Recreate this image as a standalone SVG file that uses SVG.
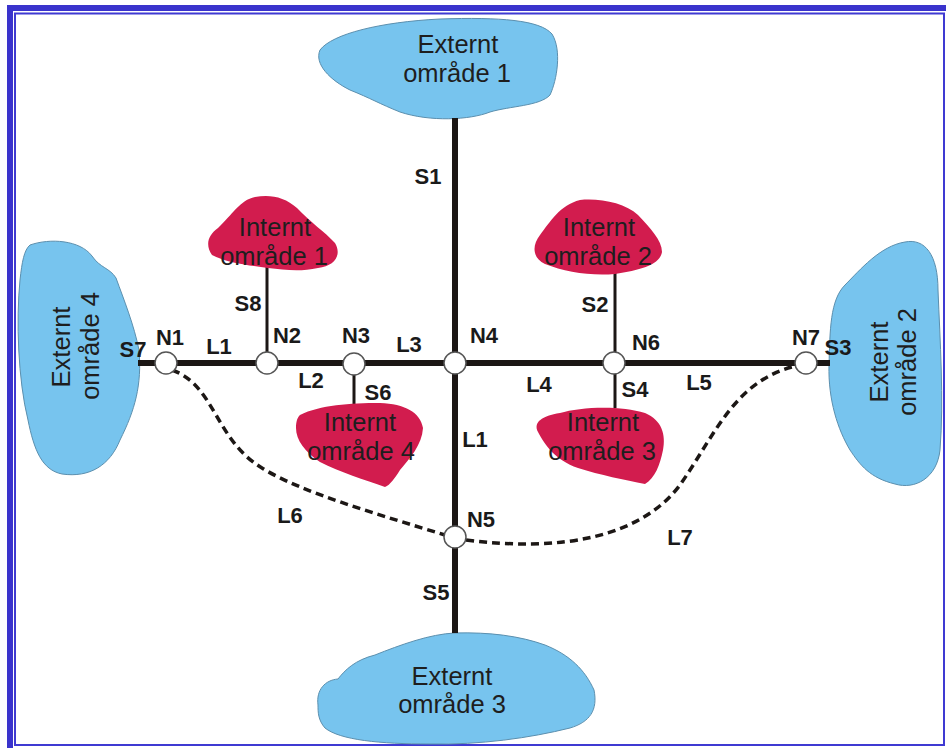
<svg xmlns="http://www.w3.org/2000/svg" width="946" height="748" viewBox="0 0 946 748">
  <style>
    .ext { fill: #77c4ee; stroke: #5b8fae; stroke-width: 1; }
    .int { fill: #d21c4e; stroke: none; }
    .area { font-family: "Liberation Sans", Arial, sans-serif; font-size: 25.5px; fill: #1e1e1e; text-anchor: middle; }
    .lbl { font-family: "Liberation Sans", Arial, sans-serif; font-size: 22px; font-weight: bold; fill: #1a1a1a; text-anchor: middle; }
    .main { stroke: #1c1715; stroke-width: 6; fill: none; }
    .stub { stroke: #1c1715; stroke-width: 3; fill: none; }
    .dash { stroke: #1c1715; stroke-width: 3.5; fill: none; stroke-dasharray: 8 5; }
    .node { fill: #ffffff; stroke: #555555; stroke-width: 1.5; }
  </style>

  <!-- frame -->
  <rect x="0" y="0" width="946" height="748" fill="#ffffff"/>
  <rect x="7" y="5" width="939" height="6" fill="#3a33cc"/>
  <rect x="7" y="5" width="6" height="743" fill="#3a33cc"/>
  <rect x="15" y="13.5" width="929" height="731.5" fill="none" stroke="#3f3ad2" stroke-width="2"/>

  <!-- external areas -->
  <g id="externt1">
    <path class="ext" d="M 320,50 C 332,34 380,22 440,19 C 500,17 540,20 552,34 C 562,50 557,80 550,95 C 540,106 510,106 490,112 C 470,120 430,122 400,112 C 380,104 370,98 350,90 C 330,80 314,64 320,50 Z"/>
    <text class="area" x="458" y="53">Externt</text>
    <text class="area" x="457" y="82">område 1</text>
  </g>
  <g id="externt2">
    <path class="ext" d="M 905,242 C 925,238 938,255 938,290 C 940,340 944,400 940,450 C 937,478 915,490 895,484 C 870,478 860,465 850,450 C 838,430 828,400 829,365 C 830,330 830,300 845,285 C 860,270 880,246 905,242 Z"/>
    <text class="area" transform="translate(888,362) rotate(-90)">Externt</text>
    <text class="area" transform="translate(916,362) rotate(-90)">område 2</text>
  </g>
  <g id="externt3">
    <path class="ext" d="M 318,705 C 316,690 325,680 338,679 C 345,670 355,660 375,655 C 400,645 430,634 455,633 C 490,632 520,636 545,645 C 570,655 585,670 594,690 C 598,710 590,722 570,728 C 530,738 480,745 430,744 C 380,744 340,740 325,728 C 318,720 318,712 318,705 Z"/>
    <text class="area" x="452" y="685">Externt</text>
    <text class="area" x="452" y="713">område 3</text>
  </g>
  <g id="externt4">
    <path class="ext" d="M 30,245 C 50,238 80,240 92,256 C 100,268 110,268 116,278 C 124,300 134,325 139,350 C 142,385 135,410 120,440 C 110,465 90,478 62,474 C 42,470 34,450 28,420 C 18,380 16,320 20,280 C 22,262 24,250 30,245 Z"/>
    <text class="area" transform="translate(70,347) rotate(-90)">Externt</text>
    <text class="area" transform="translate(99,346) rotate(-90)">område 4</text>
  </g>

  <!-- connectors -->
  <g id="connectors">
    <line class="main" x1="455" y1="118" x2="455" y2="633"/>
    <line class="main" x1="138" y1="363" x2="830" y2="363"/>
    <line class="stub" x1="267" y1="265" x2="267" y2="363"/>
    <line class="stub" x1="354" y1="363" x2="354" y2="405"/>
    <line class="stub" x1="615" y1="272" x2="615" y2="363"/>
    <line class="stub" x1="615" y1="363" x2="615" y2="408"/>
    <path class="dash" d="M 172,370 C 215,385 215,440 262,468 C 300,492 380,515 445,535"/>
    <path class="dash" d="M 466,540 C 560,552 640,538 680,485 C 715,435 735,380 796,366"/>
  </g>

  <!-- internal areas -->
  <g id="internt1">
    <path class="int" d="M 255,197 C 270,194 285,197 297,208 C 310,222 325,232 335,243 C 342,255 335,266 318,268 C 300,272 285,270 268,268 C 245,265 225,262 212,255 C 205,245 208,235 218,228 C 232,215 240,200 255,197 Z"/>
    <text class="area" x="275" y="236">Internt</text>
    <text class="area" x="274" y="265">område 1</text>
  </g>
  <g id="internt2">
    <path class="int" d="M 580,200 C 600,198 625,203 638,215 C 650,228 662,240 662,252 C 660,265 640,270 615,274 C 590,276 565,272 545,264 C 532,258 532,245 540,235 C 550,222 560,205 580,200 Z"/>
    <text class="area" x="599" y="236">Internt</text>
    <text class="area" x="598" y="265">område 2</text>
  </g>
  <g id="internt3">
    <path class="int" d="M 560,413 C 580,407 620,405 645,413 C 662,420 666,435 663,450 C 660,465 655,478 645,484 C 625,480 600,475 578,468 C 555,460 545,445 538,432 C 533,422 542,416 560,413 Z"/>
    <text class="area" x="603" y="431">Internt</text>
    <text class="area" x="602" y="460">område 3</text>
  </g>
  <g id="internt4">
    <path class="int" d="M 300,415 C 320,405 350,403 380,403 C 405,404 420,412 423,428 C 422,445 410,458 400,470 C 395,478 390,485 385,487 C 365,480 340,472 320,462 C 305,452 296,440 296,428 C 296,420 298,417 300,415 Z"/>
    <text class="area" x="360" y="431">Internt</text>
    <text class="area" x="361" y="460">område 4</text>
  </g>

  <!-- nodes -->
  <g id="n1"><circle class="node" cx="166" cy="363" r="11"/><text class="lbl" x="170" y="345">N1</text></g>
  <g id="n2"><circle class="node" cx="267" cy="363" r="11"/><text class="lbl" x="287" y="343">N2</text></g>
  <g id="n3"><circle class="node" cx="354" cy="364" r="11"/><text class="lbl" x="356" y="343">N3</text></g>
  <g id="n4"><circle class="node" cx="455" cy="363" r="11"/><text class="lbl" x="484" y="343">N4</text></g>
  <g id="n5"><circle class="node" cx="455" cy="537" r="11"/><text class="lbl" x="481" y="527">N5</text></g>
  <g id="n6"><circle class="node" cx="614" cy="363" r="11"/><text class="lbl" x="646" y="350">N6</text></g>
  <g id="n7"><circle class="node" cx="806" cy="363" r="11"/><text class="lbl" x="806" y="345">N7</text></g>

  <!-- segment and link labels -->
  <g id="labels">
    <text class="lbl" x="428" y="184">S1</text>
    <text class="lbl" x="595" y="312">S2</text>
    <text class="lbl" x="838" y="355">S3</text>
    <text class="lbl" x="635" y="397">S4</text>
    <text class="lbl" x="436" y="600">S5</text>
    <text class="lbl" x="378" y="400">S6</text>
    <text class="lbl" x="133" y="357">S7</text>
    <text class="lbl" x="248" y="311">S8</text>
    <text class="lbl" x="219" y="354">L1</text>
    <text class="lbl" x="475" y="447">L1</text>
    <text class="lbl" x="311" y="388">L2</text>
    <text class="lbl" x="409" y="352">L3</text>
    <text class="lbl" x="539" y="392">L4</text>
    <text class="lbl" x="699" y="390">L5</text>
    <text class="lbl" x="290" y="523">L6</text>
    <text class="lbl" x="680" y="545">L7</text>
  </g>
</svg>
